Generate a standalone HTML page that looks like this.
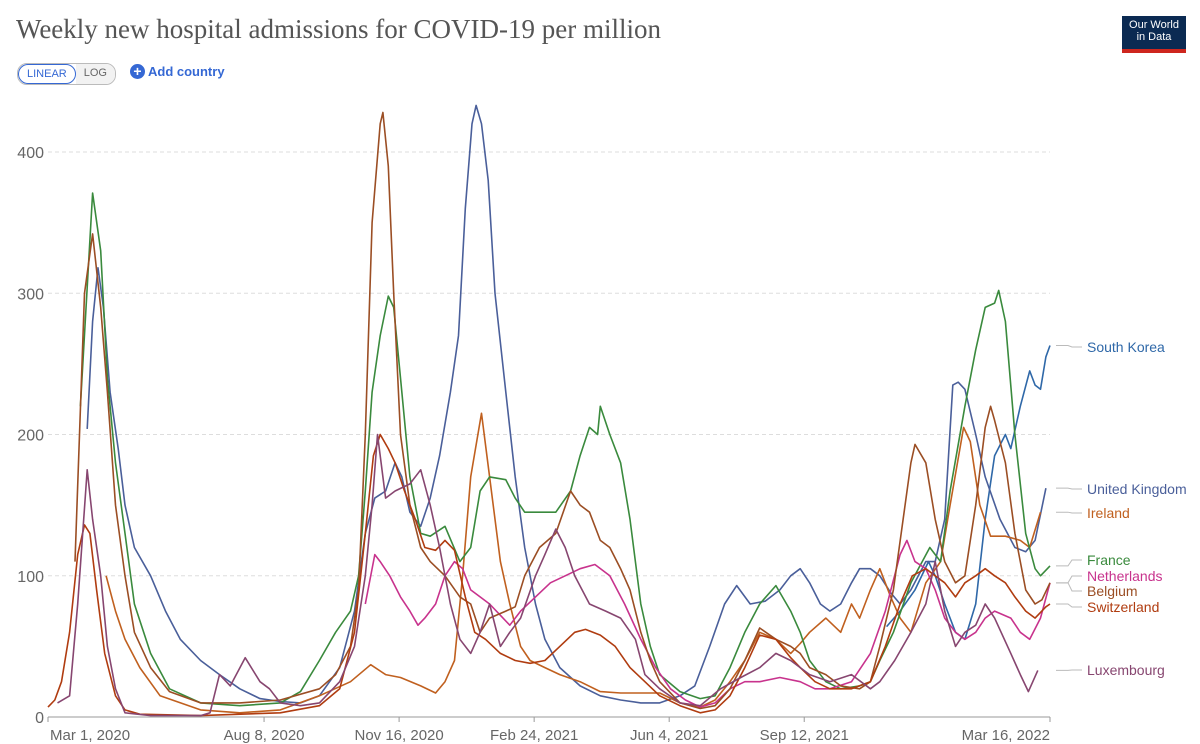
<!DOCTYPE html>
<html><head><meta charset="utf-8"><style>
body{margin:0;background:#fff;width:1200px;height:744px;overflow:hidden;font-family:"Liberation Sans",sans-serif;}
#title{position:absolute;left:16px;top:14px;font-family:"Liberation Serif",serif;font-size:27px;color:#555;}
#logo{position:absolute;left:1122px;top:16px;width:64px;height:37px;background:#0b2a52;color:#fff;font-size:11px;line-height:12px;text-align:center;padding-top:3px;box-sizing:border-box;border-bottom:4px solid #ce261e;}
#toggle{position:absolute;left:17px;top:63px;height:20px;border:1px solid #bbb;border-radius:10px;display:flex;font-size:11px;overflow:hidden;}
#toggle div{padding:3px 8px;}
#lin{border:1px solid #3568d4;border-radius:10px;color:#3568d4;}
#log{color:#666;background:#f2f2f2}
#add{position:absolute;left:130px;top:64px;color:#3568d4;font-size:13px;font-weight:bold;}
#add span{display:inline-block;width:15px;height:15px;border-radius:50%;background:#3568d4;color:#fff;text-align:center;line-height:15px;font-size:14px;margin-right:3px;}
</style></head><body>
<div id="title">Weekly new hospital admissions for COVID-19 per million</div>
<div id="logo">Our World<br>in Data</div>
<div id="toggle"><div id="lin">LINEAR</div><div id="log">LOG</div></div>
<div id="add"><span>+</span>Add country</div>
<svg id="chart" width="1200" height="744" style="position:absolute;left:0;top:0"></svg>
<script>
const yTicks=[0,100,200,300,400];
const xTickDays=[0,160,260,360,460,560,745];
const xTickLabels=["Mar 1, 2020","Aug 8, 2020","Nov 16, 2020","Feb 24, 2021","Jun 4, 2021","Sep 12, 2021","Mar 16, 2022"];
const names=["South Korea","United Kingdom","Ireland","France","Netherlands","Belgium","Switzerland","Luxembourg"];
const colors=["#2f68a8","#4a5f9a","#c0601f","#3a8a3d","#c8338d","#9b4e24","#b03c10","#874670"];
const labelY=[347,489,513,560,576,591,607,670];
const skDays=[621,631,642,652,657,664,672,679,687,694,701,709,713,720,727,731,735,739,742];
const skVals=[64,75,90,110,100,80,60,55,80,140,185,200,190,220,245,235,232,255,263];
const ukDays=[29,33,37,41,46,52,57,64,76,87,98,113,127,142,157,172,187,201,216,227,235,242,250,257,262,268,276,283,290,298,304,309,314,317,321,326,331,339,346,353,361,368,379,394,409,424,439,453,468,479,490,501,510,520,531,542,550,557,564,572,579,587,595,601,609,616,624,631,639,650,657,664,670,674,679,687,694,705,716,724,731,739];
const ukVals=[204,280,318,290,230,190,150,120,100,75,55,40,30,20,13,11,10,15,35,75,130,155,160,180,170,145,135,155,185,230,270,360,420,433,420,380,300,230,170,120,80,55,35,22,15,12,10,10,15,22,50,80,93,80,82,90,100,105,95,80,75,80,95,105,105,100,88,80,90,110,110,140,235,237,232,200,170,140,120,117,125,162];
const ieDays=[43,50,57,68,83,113,142,172,201,224,239,250,261,276,287,294,301,307,313,321,327,335,342,350,357,368,379,394,409,424,439,453,468,483,494,505,516,527,539,550,557,564,576,587,595,601,609,616,624,631,639,650,661,668,678,683,690,698,709,720,727,735];
const ieVals=[100,75,55,35,15,5,3,5,15,25,37,30,28,22,17,25,40,100,170,215,170,110,80,50,40,35,30,25,18,17,17,17,10,7,12,25,40,60,55,45,52,60,70,60,80,70,90,105,85,70,60,95,110,150,205,195,150,128,128,125,120,145];
const frDays=[24,33,39,44,50,57,64,76,90,113,142,172,187,201,213,224,230,235,240,246,252,256,261,268,276,283,294,305,313,320,327,339,346,353,364,376,387,394,401,407,409,416,424,431,439,446,453,468,483,494,505,516,527,539,550,557,564,576,587,601,609,616,626,639,653,661,668,679,687,694,701,704,709,716,724,731,735,742];
const frVals=[220,371,330,240,180,130,80,45,20,10,8,10,18,40,60,75,100,160,230,270,298,290,240,170,130,128,135,110,120,160,170,168,155,145,145,145,160,185,205,200,220,200,180,140,80,50,30,18,13,15,35,60,80,93,75,60,40,25,20,22,25,40,60,95,120,110,160,220,260,290,293,302,280,200,130,105,100,107];
const nlDays=[235,242,246,253,261,268,274,279,287,294,301,307,313,320,327,335,342,350,361,372,383,394,405,416,427,439,450,461,472,483,494,505,516,527,542,557,568,579,595,609,620,631,636,642,650,657,664,672,679,687,694,701,713,720,727,735,742];
const nlVals=[80,115,110,100,85,75,65,70,80,100,110,105,90,85,80,72,65,75,85,95,100,105,108,100,80,55,35,20,12,7,10,20,25,25,28,25,20,20,25,45,75,115,125,110,105,90,70,60,55,60,70,75,70,60,55,70,95];
const beDays=[20,27,33,39,44,50,57,64,76,90,113,142,172,201,213,224,230,235,240,246,248,252,256,261,268,276,283,294,305,313,320,327,339,346,353,364,376,387,394,401,409,416,424,431,439,446,453,468,483,494,505,516,527,539,550,557,564,576,587,601,609,616,626,639,642,650,657,664,672,679,687,694,698,701,709,716,724,731,736,742];
const beVals=[110,300,342,290,230,150,100,60,35,18,10,10,12,20,30,50,90,200,350,420,428,390,300,200,150,120,110,100,85,80,60,70,75,78,100,120,130,160,150,145,125,120,105,90,60,40,25,10,6,8,20,40,63,55,50,45,35,30,22,20,25,50,90,180,193,180,140,110,95,100,150,205,220,210,180,130,90,80,83,95];
const chDays=[0,5,10,16,22,27,31,36,42,50,57,68,113,172,201,216,227,235,241,246,252,257,264,272,279,287,294,301,309,316,324,335,346,357,368,379,390,398,409,420,431,442,453,468,483,494,505,516,527,539,550,557,568,579,595,609,620,631,640,650,657,664,672,679,687,694,701,709,716,724,731,739,742];
const chVals=[7,12,25,60,115,136,130,90,45,15,5,2,1,3,8,20,60,130,185,200,190,180,160,140,120,118,125,118,85,60,55,45,40,38,40,50,60,62,58,50,35,25,15,8,3,5,15,35,58,55,42,35,25,20,20,25,50,80,100,105,100,95,85,95,100,105,100,95,85,75,70,78,80];
const luDays=[7,16,22,29,33,39,44,50,57,76,113,120,127,135,146,157,164,172,187,201,216,227,235,240,244,250,257,268,276,283,290,298,305,313,320,327,335,342,350,361,368,376,383,390,401,413,424,435,442,453,468,483,498,513,527,539,550,564,579,595,609,616,627,639,650,657,664,672,679,687,694,701,713,720,726,733];
const luVals=[10,15,80,175,140,100,50,20,3,1,1,3,30,22,42,25,20,10,8,10,25,50,100,150,200,155,160,165,175,150,120,80,55,45,60,80,50,60,70,100,115,133,120,100,80,75,70,55,30,20,10,8,20,28,35,45,40,30,25,30,20,25,40,60,80,110,75,50,60,65,80,70,45,30,18,33];
const seriesDays=[skDays,ukDays,ieDays,frDays,nlDays,beDays,chDays,luDays];
const seriesVals=[skVals,ukVals,ieVals,frVals,nlVals,beVals,chVals,luVals];

const NS="http://www.w3.org/2000/svg";
const svg=document.getElementById('chart');
const X0=48,X1=1050,Y0=717,Y400=152,DMAX=742;
function xs(d){return X0+(X1-X0)*d/DMAX;}
function ys(v){return Y0-(Y0-Y400)*v/400;}
function mk(t,a){const e=document.createElementNS(NS,t);for(const k in a)e.setAttribute(k,a[k]);svg.appendChild(e);return e;}
yTicks.forEach(v=>{
  if(v>0){const g=mk('line',{x1:X0,x2:X1,y1:ys(v),y2:ys(v),stroke:'#ddd','stroke-dasharray':'4,3'});
  
  }
  const t=mk('text',{x:44,y:ys(v)+6,'text-anchor':'end','font-size':16,fill:'#666'});
  t.textContent=v;
  
  
});
const ax=mk('line',{x1:X0,x2:X1,y1:Y0,y2:Y0,stroke:'#999'});


xTickDays.forEach((d,i)=>{
  const dd=Math.min(d,DMAX);
  const tk=mk('line',{x1:xs(dd),x2:xs(dd),y1:Y0,y2:Y0+5,stroke:'#999'});
  
  
  const anchor=i==0?'start':(i==xTickDays.length-1?'end':'middle');
  const tx=i==0?xs(dd)+2:xs(dd);
  const t=mk('text',{x:tx,y:740,'text-anchor':anchor,'font-size':15,fill:'#666'});
  t.textContent=xTickLabels[i];
  
  
});
seriesDays.forEach((ds,i)=>{
  const vs=seriesVals[i];
  const pts=ds.map((d,j)=>xs(d).toFixed(1)+','+ys(vs[j]).toFixed(1)).join(' ');
  const p=mk('polyline',{points:pts,fill:'none',stroke:colors[i],'stroke-width':1.6,'stroke-linejoin':'round'});
  
  
  const ex=xs(ds[ds.length-1]),ey=ys(vs[vs.length-1]);
  const c=mk('polyline',{points:`${X1+6},${ey} ${1068},${ey} ${1072},${labelY[i]} ${1082},${labelY[i]}`,fill:'none',stroke:'#bbb','stroke-width':1});
  
  
  const t=mk('text',{x:1087,y:labelY[i]+5,'font-size':14,fill:colors[i]});
  t.textContent=names[i];
  
  
});
</script>
</body></html>
